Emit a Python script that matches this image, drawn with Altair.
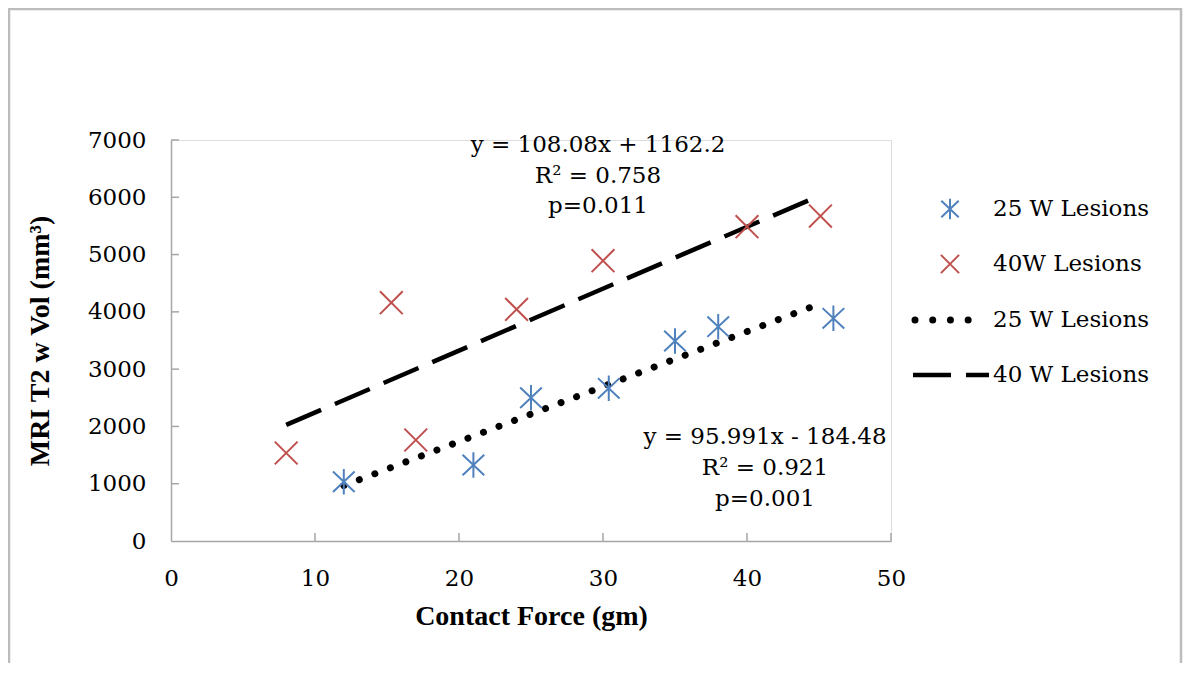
import altair as alt
import pandas as pd

# --- data ---
force_25w = [12, 21, 25, 30.4, 35, 38, 46]
vol_25w = [1035, 1327, 2500, 2665, 3491, 3741, 3887]
force_40w = [8, 15.3, 17, 24, 30, 40, 45.1]
vol_40w = [1536, 4160, 1763, 4044, 4893, 5486, 5673]

trend_25w_x = [12, 45.3]
trend_25w_y = [967, 4165]
trend_40w_x = [8, 45.1]
trend_40w_y = [2027, 6036]

x_ticks = [10, 20, 30, 40, 50]
y_ticks = [1000, 2000, 3000, 4000, 5000, 6000, 7000]

legend_labels = ["25 W Lesions", "40W Lesions", "25 W Lesions", "40 W Lesions"]
eq_40w = ["y = 108.08x + 1162.2", "R² = 0.758", "p=0.011"]
eq_25w = ["y = 95.991x - 184.48", "R² = 0.921", "p=0.001"]

BLUE = "#4F81BD"
RED = "#C0504D"
AXIS = "#a6a6a6"
FONT = "DejaVu Serif"
TFONT = "Liberation Serif"

ASTER = "M0,-1L0,1M-0.85,-0.8L0.85,0.8M-0.85,0.8L0.85,-0.8"
XSHAPE = "M-1,-1L1,1M-1,1L1,-1"

W, H = 720, 401

df25 = pd.DataFrame({"x": force_25w, "y": vol_25w})
df40 = pd.DataFrame({"x": force_40w, "y": vol_40w})
t25 = pd.DataFrame({"x": trend_25w_x, "y": trend_25w_y})
t40 = pd.DataFrame({"x": trend_40w_x, "y": trend_40w_y})
xt = pd.DataFrame({"x": x_ticks})
yt = pd.DataFrame({"y": y_ticks})
one = pd.DataFrame({"a": [0]})

xs = alt.Scale(domain=[0, 50], nice=False)
ys = alt.Scale(domain=[0, 7000], nice=False)

xaxis = alt.Axis(values=[0, 10, 20, 30, 40, 50], ticks=False, grid=False, format="d",
                 domainColor=AXIS, domainWidth=1.5, labelFont=FONT, labelFontSize=23,
                 labelColor="black", labelPadding=26, labelFlush=False,
                 title="Contact Force (gm)", titleFont=TFONT, titleFontSize=28,
                 titleFontWeight="bold", titleColor="black", titlePadding=12)
yaxis = alt.Axis(values=[0] + y_ticks, ticks=False, grid=False, format="d",
                 domainColor=AXIS, domainWidth=1.5, labelFont=FONT, labelFontSize=23,
                 labelColor="black", labelPadding=25, labelFlush=False,
                 title="MRI T2 w Vol (mm³)", titleFont=TFONT, titleFontSize=28,
                 titleFontWeight="bold", titleColor="black", titlePadding=33)

border = alt.Chart(one).mark_rect(filled=False, stroke="#bcbcbc", strokeWidth=2.5).encode(
    x=alt.value(-162), x2=alt.value(1010), y=alt.value(-131), y2=alt.value(600)
)

xtick = alt.Chart(xt).mark_rule(color=AXIS, strokeWidth=1.5).encode(
    x=alt.X("x:Q", scale=xs, axis=xaxis), y=alt.value(H - 8), y2=alt.value(H)
)
ytick = alt.Chart(yt).mark_rule(color=AXIS, strokeWidth=1.5).encode(
    y=alt.Y("y:Q", scale=ys, axis=yaxis), x=alt.value(0), x2=alt.value(8)
)

blue_pts = alt.Chart(df25).mark_point(shape=ASTER, size=650, filled=False, color=BLUE,
                                      strokeWidth=2, opacity=1).encode(x="x:Q", y="y:Q")
red_pts = alt.Chart(df40).mark_point(shape=XSHAPE, size=520, filled=False, color=RED,
                                     strokeWidth=2, opacity=1).encode(x="x:Q", y="y:Q")

line25 = alt.Chart(t25).mark_line(color="black", strokeWidth=7, strokeCap="round",
                                  strokeDash=[0.01, 16.6]).encode(x="x:Q", y="y:Q")
line40 = alt.Chart(t40).mark_line(color="black", strokeWidth=4.5, strokeCap="butt",
                                  strokeDash=[38, 15]).encode(x="x:Q", y="y:Q")

layers = [xtick, ytick, border, line40, line25, blue_pts, red_pts]

# equations
for i, txt in enumerate(eq_40w):
    layers.append(alt.Chart(one).mark_text(text=txt, font=FONT, fontSize=23, color="black",
                                           align="center", baseline="middle").encode(
        x=alt.value(427), y=alt.value(5 + 30.5 * i)))
for i, txt in enumerate(eq_25w):
    layers.append(alt.Chart(one).mark_text(text=txt, font=FONT, fontSize=23, color="black",
                                           align="center", baseline="middle").encode(
        x=alt.value(594), y=alt.value(297 + 31 * i)))

# legend
rows = [69, 124, 180, 235]
layers.append(alt.Chart(one).mark_point(shape=ASTER, size=420, filled=False, color=BLUE,
                                        strokeWidth=2, opacity=1).encode(
    x=alt.value(779), y=alt.value(rows[0])))
layers.append(alt.Chart(one).mark_point(shape=XSHAPE, size=330, filled=False, color=RED,
                                        strokeWidth=2, opacity=1).encode(
    x=alt.value(779), y=alt.value(rows[1])))
layers.append(alt.Chart(one).mark_rule(color="black", strokeWidth=7, strokeCap="round",
                                       strokeDash=[0.01, 17.7]).encode(
    x=alt.value(744), x2=alt.value(798), y=alt.value(rows[2])))
layers.append(alt.Chart(one).mark_rule(color="black", strokeWidth=4.5, strokeCap="butt",
                                       strokeDash=[38, 15]).encode(
    x=alt.value(742), x2=alt.value(818), y=alt.value(rows[3])))
for r, lab in zip(rows, legend_labels):
    layers.append(alt.Chart(one).mark_text(text=lab, font=FONT, fontSize=23, color="black",
                                           align="left", baseline="middle").encode(
        x=alt.value(822), y=alt.value(r)))

chart = alt.layer(*layers).properties(
    width=W, height=H,
    padding={"left": 163, "top": 132, "right": 292, "bottom": 122},
    autosize=alt.AutoSizeParams(type="none"),
).configure_view(strokeWidth=0).configure(background="white")

chart.save("out.html", embed_options={"renderer": "svg", "actions": False})
